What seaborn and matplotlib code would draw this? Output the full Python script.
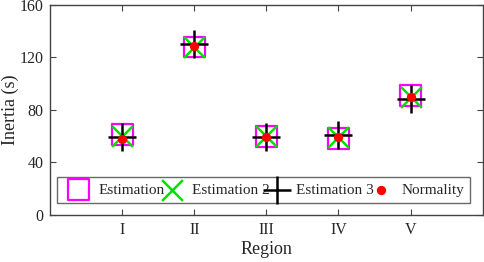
import matplotlib
matplotlib.use("Agg")
import matplotlib.pyplot as plt
import seaborn as sns

# values
regions = ["I", "II", "III", "IV", "V"]
estimation = [61, 128, 60, 58, 91]
estimation2 = [60, 128, 60, 59, 90]
estimation3 = [59, 130, 59, 61, 88]
normality = [58, 129, 59, 59, 90]
yticks = [0, 40, 80, 120, 160]

sns.set_theme(style="ticks")
plt.rcParams["font.family"] = ["Liberation Serif", "DejaVu Serif"]

fig, ax = plt.subplots(figsize=(4.84, 2.62), dpi=100)
fig.subplots_adjust(left=0.104, right=0.997, top=0.981, bottom=0.18)

sns.scatterplot(x=regions, y=estimation, marker="s", s=225, facecolors="none",
                edgecolor="#ff00ff", linewidth=1.6, label="Estimation", ax=ax, zorder=2)
sns.scatterplot(x=regions, y=estimation2, marker="x", s=225, color="#00e000",
                linewidth=1.8, label="Estimation 2", ax=ax, zorder=3)
sns.scatterplot(x=regions, y=estimation3, marker="+", s=380, color="black",
                linewidth=1.8, label="Estimation 3", ax=ax, zorder=4)
sns.scatterplot(x=regions, y=normality, marker="o", s=45, color="red",
                edgecolor="red", linewidth=0, label="Normality", ax=ax, zorder=5)

ax.set_xlim(-1, 5)
ax.set_ylim(0, 160)
ax.set_yticks(yticks)
ax.set_xlabel("Region", fontsize=13, labelpad=2)
ax.set_ylabel("Inertia (s)", fontsize=13, labelpad=0)
ax.tick_params(direction="in", top=True, right=True, length=4, labelsize=11.5,
               color="#444444", width=0.8, pad=5)
for sp in ax.spines.values():
    sp.set_color("#444444")
    sp.set_linewidth(1.0)

leg = ax.legend(loc="lower left", bbox_to_anchor=(0.016, 0.057, 0.955, 0.12),
                mode="expand", ncol=4, frameon=True, fancybox=False,
                borderpad=0.4, handletextpad=0.3, columnspacing=0.6,
                fontsize=11, borderaxespad=0)
leg.get_frame().set_edgecolor("#444444")
leg.get_frame().set_linewidth(1.0)

fig.savefig("out.png", dpi=100)
